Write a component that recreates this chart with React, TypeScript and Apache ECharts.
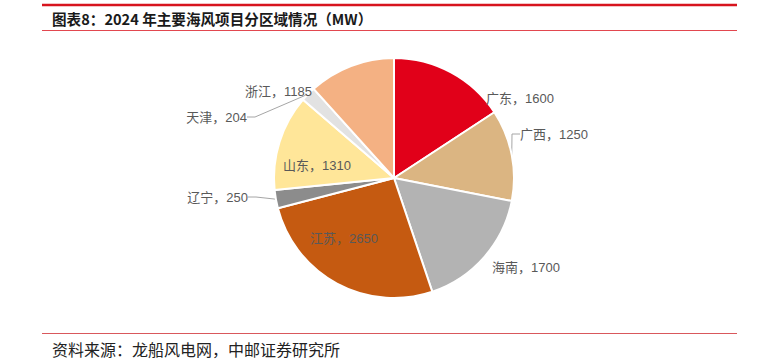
import React, { useEffect, useRef } from "react";
import * as echarts from "echarts";

const regions = ["广东", "广西", "海南", "江苏", "辽宁", "山东", "天津", "浙江"];
const capacityMW = [1600, 1250, 1700, 2650, 250, 1310, 204, 1185];
const sliceColors = ["#E10019", "#DBB582", "#B3B3B3", "#C55A11", "#8C8C8C", "#FFE699", "#E2E2E2", "#F4B183"];
const showLeader = [false, true, false, false, true, false, true, false];

// label anchor layout (x, y, align) for each region's label, in chart pixels
const LABEL_LAYOUT: [number, number, "left" | "right"][] = [
  [486, 98, "left"],
  [520, 134, "left"],
  [492, 267, "left"],
  [310, 238, "left"],
  [248, 197, "right"],
  [283, 165, "left"],
  [247, 117, "right"],
  [312, 91, "right"],
];

const TITLE = "图表8：2024 年主要海风项目分区域情况（MW）";
const SOURCE = "资料来源：龙船风电网，中邮证券研究所";

export default function App() {
  const ref = useRef<HTMLDivElement>(null);
  useEffect(() => {
    if (!ref.current) return;
    const chart = echarts.init(ref.current, null, { renderer: "svg" });
    const data = regions.map((name, i) => ({
      name,
      value: capacityMW[i],
      itemStyle: { color: sliceColors[i] },
      labelLine: { show: showLeader[i] },
    }));
    chart.setOption({
      animation: false,
      graphic: [
        { type: "line", shape: { x1: 42, y1: 5, x2: 737, y2: 5 }, style: { stroke: "#D7141E", lineWidth: 2.5 } },
        { type: "line", shape: { x1: 42, y1: 30.5, x2: 737, y2: 30.5 }, style: { stroke: "#E2474F", lineWidth: 1 } },
        { type: "line", shape: { x1: 42, y1: 333.5, x2: 737, y2: 333.5 }, style: { stroke: "#D9585C", lineWidth: 1 } },
        {
          type: "text",
          left: 52,
          top: 11,
          style: {
            text: TITLE,
            fontSize: 14.6,
            fontWeight: "bold",
            fill: "#1a1a1a",
            fontFamily: "'Noto Sans CJK SC', sans-serif",
          },
        },
        {
          type: "text",
          left: 52,
          top: 341,
          style: {
            text: SOURCE,
            fontSize: 16,
            fill: "#222222",
            fontFamily: "'Noto Sans CJK SC', sans-serif",
          },
        },
      ],
      series: [
        {
          type: "pie",
          center: [394, 178],
          radius: 120,
          startAngle: 90,
          clockwise: true,
          avoidLabelOverlap: false,
          itemStyle: { borderColor: "#ffffff", borderWidth: 2 },
          label: {
            show: true,
            position: "outside",
            formatter: "{b}，{c}",
            fontSize: 13,
            color: "#595959",
            fontFamily: "'Liberation Sans', 'Noto Sans CJK SC', sans-serif",
          },
          labelLine: {
            show: true,
            length: 8,
            length2: 8,
            lineStyle: { color: "#A6A6A6", width: 1 },
          },
          labelLayout: (params: any) => {
            const l = LABEL_LAYOUT[params.dataIndex];
            return { x: l[0], y: l[1], align: l[2], verticalAlign: "middle" };
          },
          data,
        },
      ],
    });
    return () => chart.dispose();
  }, []);
  return (
    <div
      ref={ref}
      style={{ position: "absolute", left: 0, top: 0, width: 761, height: 364, background: "#fff" }}
    />
  );
}
